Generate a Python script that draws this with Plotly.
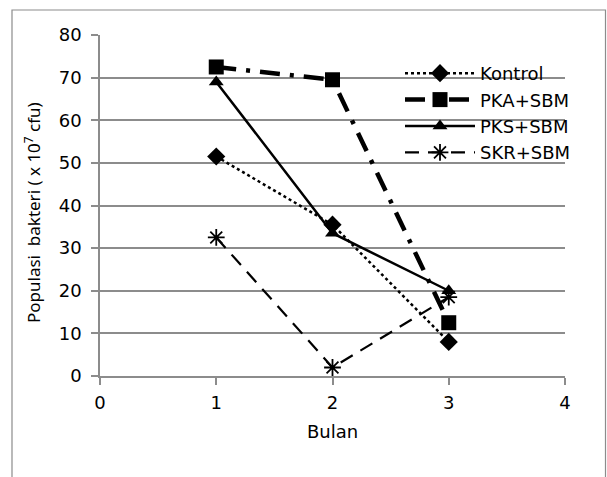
import plotly.graph_objects as go

months = [1, 2, 3]
kontrol = [51.5, 35.5, 8]
pka_sbm = [72.5, 69.5, 12.5]
pks_sbm = [69, 33.5, 20]
skr_sbm = [32.5, 2, 18.5]
series_names = ["Kontrol", "PKA+SBM", "PKS+SBM", "SKR+SBM"]
y_title = "Populasi\u00a0 bakteri ( x 10<sup>7</sup> cfu)"
x_title = "Bulan"

W, H = 607, 477
L, R, T, B = 100, 42, 35, 101
pw, ph = W - L - R, H - T - B

fig = go.Figure()
fig.add_trace(go.Scatter(x=months, y=kontrol, name=series_names[0], mode="lines+markers",
                         line=dict(color="black", width=2.5, dash="dot"),
                         marker=dict(symbol="diamond", size=14, color="black")))
fig.add_trace(go.Scatter(x=months, y=pka_sbm, name=series_names[1], mode="lines+markers",
                         line=dict(color="black", width=4.5, dash="20px,10px,4px,10px"),
                         marker=dict(symbol="square", size=15, color="black")))
fig.add_trace(go.Scatter(x=months, y=pks_sbm, name=series_names[2], mode="lines+markers",
                         line=dict(color="black", width=2.5),
                         marker=dict(symbol="triangle-up", size=13, color="black")))
fig.add_trace(go.Scatter(x=months, y=skr_sbm, name=series_names[3], mode="lines+markers",
                         line=dict(color="black", width=2.2, dash="14px,9px"),
                         marker=dict(symbol="asterisk-open", size=14, color="black",
                                     line=dict(color="black", width=1.8))))

font = "DejaVu Sans"

def px_x(p):
    return (p - L) / pw

def px_y(p):
    return (H - B - p) / ph

# outer chart frame
fig.add_shape(type="rect", xref="paper", yref="paper",
              x0=px_x(12), x1=px_x(605.5), y0=px_y(490), y1=px_y(10),
              line=dict(color="#8c8c8c", width=1.2), fillcolor="rgba(0,0,0,0)", layer="below")

# y axis title
fig.add_annotation(text=y_title, xref="paper", yref="paper", x=px_x(32), y=px_y(213),
                   xanchor="center", yanchor="middle", textangle=-90, showarrow=False,
                   font=dict(size=17, family="Noto Sans", color="black"))

fig.update_layout(
    width=W, height=H,
    margin=dict(l=L, r=R, t=T, b=B),
    paper_bgcolor="white", plot_bgcolor="white",
    font=dict(family=font, size=18, color="black"),
    showlegend=True,
    legend=dict(x=px_x(400), y=px_y(55), xanchor="left", yanchor="top",
                bgcolor="rgba(0,0,0,0)", font=dict(size=18, family=font),
                itemwidth=70, tracegroupgap=0),
    xaxis=dict(range=[0, 4], tickmode="linear", tick0=0, dtick=1,
               showgrid=False, zeroline=False, showline=True, linecolor="#8c8c8c", linewidth=1.5,
               ticks="outside", ticklen=7, tickcolor="#8c8c8c", tickwidth=1.5,
               ticklabelstandoff=3,
               title=dict(text=x_title, standoff=13, font=dict(size=18)),
               tickfont=dict(size=18)),
    yaxis=dict(range=[0, 80], tickmode="linear", tick0=0, dtick=10,
               showgrid=True, gridcolor="#8c8c8c", gridwidth=1.5, zeroline=False,
               showline=True, linecolor="#8c8c8c", linewidth=1.5,
               ticks="outside", ticklen=7, tickcolor="#8c8c8c", tickwidth=1.5,
               ticklabelstandoff=6,
               tickfont=dict(size=18)),
)

fig.write_html("out.html", config={"displayModeBar": False},
               post_script="document.body.style.margin='0';")
